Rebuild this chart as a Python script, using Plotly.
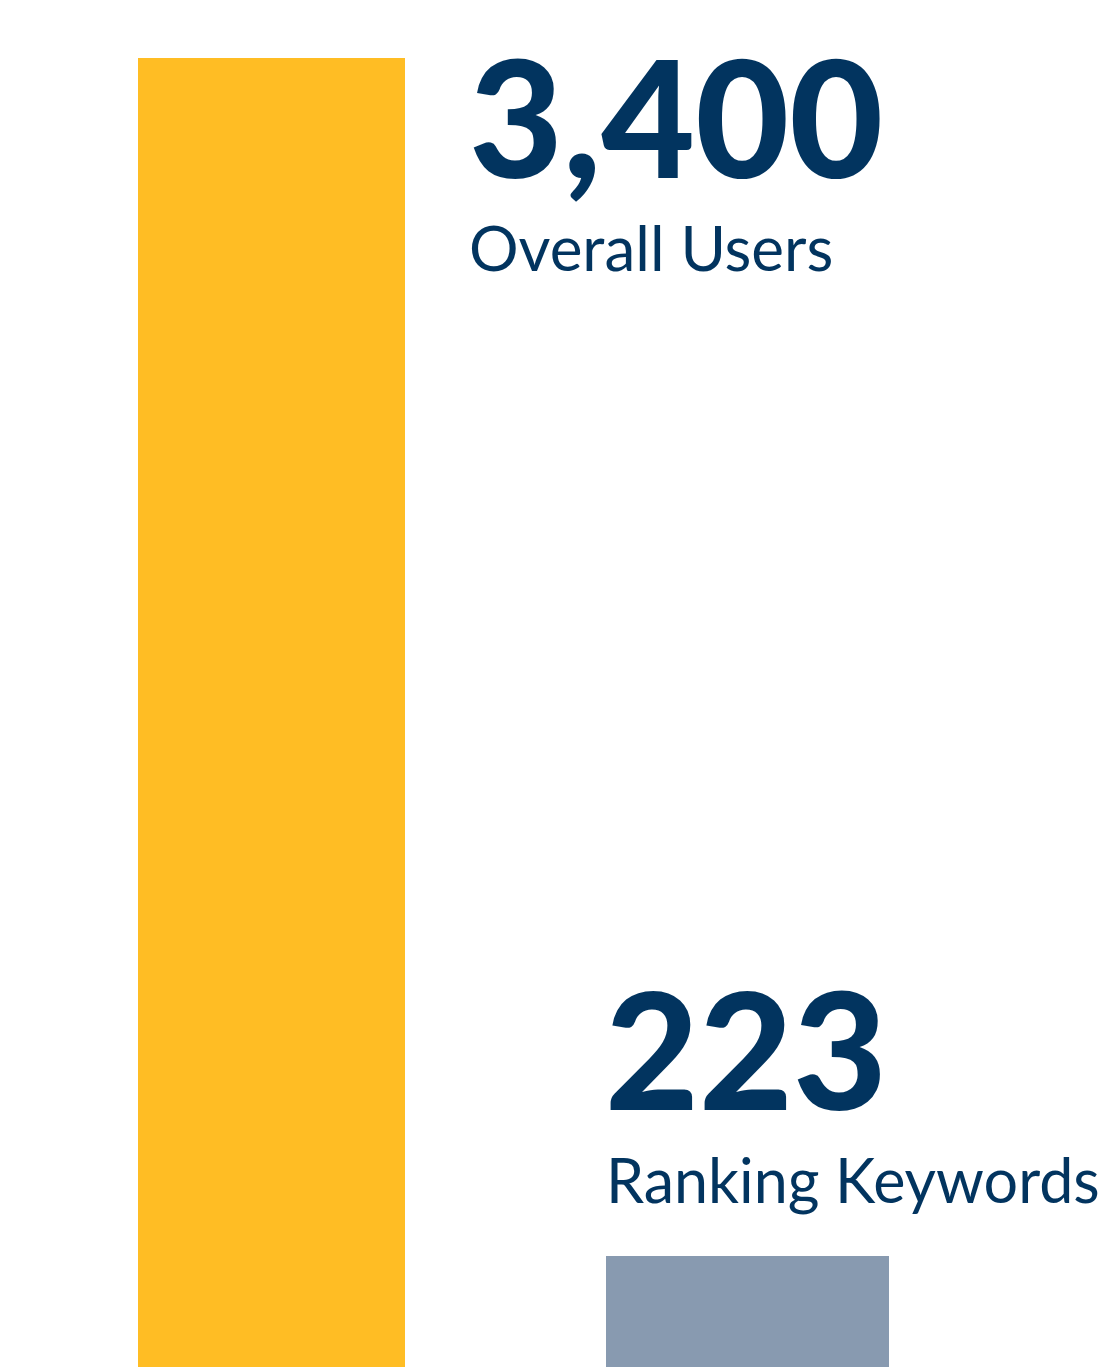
import plotly.graph_objects as go

categories = ["Overall Users", "Ranking Keywords"]
values = [3400, 223]
value_labels = ["3,400", "223"]
bar_colors = ["#FFBD24", "#889AB0"]
bar_widths = [0.561, 0.595]

NAVY = "#02345F"
BAR_BASE = -71
Y_RANGE = [-71, 3532.6]

fig = go.Figure()
fig.add_trace(go.Bar(
    x=[0, 1], y=[v - BAR_BASE for v in values], base=BAR_BASE,
    width=bar_widths, marker=dict(color=bar_colors, line=dict(width=0)),
    hoverinfo="skip", showlegend=False,
))

W, H = 1104, 1359
label_x = [459 / W, 595 / W]
name_x = [459 / W, 596 / W]
num_top = [1 - 8 / H, 1 - 940 / H]
name_top = [1 - 200 / H, 1 - 1133 / H]
name_size = [62, 61]

for i in range(2):
    fig.add_annotation(x=label_x[i], y=num_top[i], xref="paper", yref="paper",
                       xanchor="left", yanchor="top", showarrow=False,
                       text=value_labels[i],
                       font=dict(family="Lato", size=162, color=NAVY, weight=900))
    fig.add_annotation(x=name_x[i], y=name_top[i], xref="paper", yref="paper",
                       xanchor="left", yanchor="top", showarrow=False,
                       text=categories[i],
                       font=dict(family="Lato", size=name_size[i], color=NAVY))

fig.update_layout(
    width=W, height=H,
    margin=dict(l=0, r=0, t=0, b=0),
    paper_bgcolor="white", plot_bgcolor="white",
    xaxis=dict(range=[-0.5536, 1.7657], visible=False, fixedrange=True),
    yaxis=dict(range=Y_RANGE, visible=False, fixedrange=True),
    bargap=0,
)
fig.write_html("out.html", config={"displayModeBar": False})
